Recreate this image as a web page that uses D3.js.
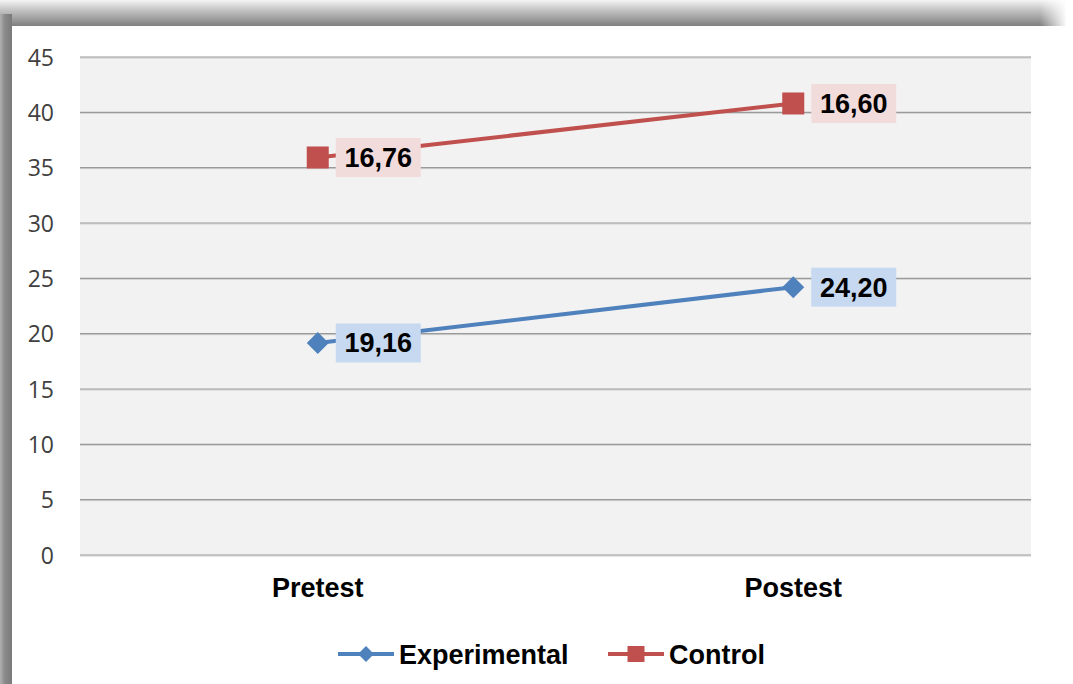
<!DOCTYPE html>
<html>
<head>
<meta charset="utf-8">
<script src="https://cdn.jsdelivr.net/npm/d3@7"></script>
<style>
  html, body { margin: 0; padding: 0; background: #fff; }
  svg { display: block; }
</style>
</head>
<body>
<svg id="chart" width="1073" height="684"></svg>
<script>
// data (Control is stacked on Experimental)
const categories = ["Pretest", "Postest"];
const experimental = [19.16, 24.20];
const control = [16.76, 16.60];
const seriesNames = ["Experimental", "Control"];
const yTicks = [0, 5, 10, 15, 20, 25, 30, 35, 40, 45];

const colors = { Experimental: "#4f81bd", Control: "#c0504d" };
const labelFill = { Experimental: "#c6d9f1", Control: "#f2dcdb" };
const boldFont = "'Liberation Sans', Arial, sans-serif";

const W = 1073, H = 684;
const margin = { top: 57, right: 42, bottom: 129, left: 80 };
const width = W - margin.left - margin.right;
const height = H - margin.top - margin.bottom;

const svg = d3.select("#chart");

// shadow frame
const defs = svg.append("defs");
const gTop = defs.append("linearGradient").attr("id", "topShade")
  .attr("x1", 0).attr("y1", 0).attr("x2", 0).attr("y2", 1);
gTop.append("stop").attr("offset", "0%").attr("stop-color", "#f4f4f4");
gTop.append("stop").attr("offset", "35%").attr("stop-color", "#c8c8c8");
gTop.append("stop").attr("offset", "100%").attr("stop-color", "#7f7f7f");
const gRight = defs.append("linearGradient").attr("id", "topFade")
  .attr("x1", 0).attr("y1", 0).attr("x2", 1).attr("y2", 0);
gRight.append("stop").attr("offset", "0%").attr("stop-color", "#fff").attr("stop-opacity", 0);
gRight.append("stop").attr("offset", "100%").attr("stop-color", "#fff").attr("stop-opacity", 1);
const gLeft = defs.append("linearGradient").attr("id", "leftShade")
  .attr("x1", 0).attr("y1", 0).attr("x2", 1).attr("y2", 0);
gLeft.append("stop").attr("offset", "0%").attr("stop-color", "#b0b0b0");
gLeft.append("stop").attr("offset", "40%").attr("stop-color", "#8a8a8a");
gLeft.append("stop").attr("offset", "100%").attr("stop-color", "#7a7a7a");

svg.append("rect").attr("x", 0).attr("y", 0).attr("width", 1066).attr("height", 26)
  .attr("fill", "url(#topShade)");
svg.append("rect").attr("x", 1040).attr("y", 0).attr("width", 27).attr("height", 26)
  .attr("fill", "url(#topFade)");
svg.append("rect").attr("x", 0).attr("y", 14).attr("width", 12).attr("height", H - 14)
  .attr("fill", "url(#leftShade)");

const g = svg.append("g")
  .attr("transform", "translate(" + margin.left + "," + margin.top + ")");

const x = d3.scaleBand().domain(categories).range([0, width]);
const y = d3.scaleLinear().domain([0, 45]).range([height, 0]);

// plot background
g.append("rect").attr("width", width).attr("height", height).attr("fill", "#f2f2f2");

// gridlines
g.append("g").selectAll("line").data(yTicks).enter().append("line")
  .attr("x1", 0).attr("x2", width)
  .attr("y1", d => y(d) + 1).attr("y2", d => y(d) + 1)
  .attr("stroke", "#d0d0d0").attr("stroke-width", 1);
g.append("g").selectAll("line").data(yTicks).enter().append("line")
  .attr("x1", 0).attr("x2", width)
  .attr("y1", d => y(d)).attr("y2", d => y(d))
  .attr("stroke", "#9a9a9a").attr("stroke-width", 1.2);

// y axis labels
const yAxis = g.append("g")
  .call(d3.axisLeft(y).tickValues(yTicks).tickSize(0).tickPadding(26));
yAxis.select(".domain").remove();
yAxis.selectAll("text")
  .style("font-family", "'Open Sans', sans-serif")
  .style("font-size", "23px")
  .attr("dy", "0.36em")
  .attr("fill", "#404040");

// x axis labels
const xAxis = g.append("g")
  .attr("transform", "translate(0," + height + ")")
  .call(d3.axisBottom(x).tickSize(0).tickPadding(23));
xAxis.select(".domain").remove();
xAxis.selectAll("text")
  .style("font-family", boldFont)
  .style("font-size", "27px")
  .style("font-weight", "bold")
  .attr("fill", "#000");

// stacked series
const table = categories.map((c, i) => ({ cat: c, Experimental: experimental[i], Control: control[i] }));
const stacked = d3.stack().keys(seriesNames)(table);

const line = d3.line()
  .x((d, i) => x(categories[i]) + x.bandwidth() / 2)
  .y(d => y(d[1]));

stacked.forEach(s => {
  g.append("path").datum(s)
    .attr("d", line)
    .attr("fill", "none")
    .attr("stroke", colors[s.key])
    .attr("stroke-width", 4);
});

function marker(sel, key, w, h) {
  if (key === "Control") {
    sel.append("rect")
      .attr("x", -w / 2).attr("y", -h / 2)
      .attr("width", w).attr("height", h)
      .attr("fill", colors[key]);
  } else {
    sel.append("path")
      .attr("d", "M0," + (-h / 2) + "L" + (w / 2) + ",0L0," + (h / 2) + "L" + (-w / 2) + ",0Z")
      .attr("fill", colors[key]);
  }
}

stacked.forEach(s => {
  s.forEach((d, i) => {
    const px = x(categories[i]) + x.bandwidth() / 2;
    const py = y(d[1]);
    const mg = g.append("g").attr("transform", "translate(" + px + "," + py + ")");
    marker(mg, s.key, 22, 22);
  });
});

// data labels
stacked.forEach(s => {
  s.forEach((d, i) => {
    const px = x(categories[i]) + x.bandwidth() / 2;
    const py = y(d[1]);
    const val = d.data[s.key];
    const txt = d3.format(".2f")(val).replace(".", ",");
    const lg = g.append("g").attr("transform", "translate(" + (px + 18) + "," + py + ")");
    lg.append("rect")
      .attr("x", 0).attr("y", -19.5)
      .attr("width", 85).attr("height", 39)
      .attr("fill", labelFill[s.key]);
    lg.append("text")
      .attr("x", 42.5).attr("y", 9.5)
      .attr("text-anchor", "middle")
      .style("font-family", boldFont)
      .style("font-size", "27px")
      .style("font-weight", "bold")
      .attr("fill", "#000")
      .text(txt);
  });
});

// legend
const legendItems = [
  { key: "Experimental", x: 338 },
  { key: "Control", x: 608 }
];
const lgd = svg.append("g").attr("transform", "translate(0,654)");
legendItems.forEach(it => {
  const li = lgd.append("g").attr("transform", "translate(" + it.x + ",0)");
  li.append("line").attr("x1", 0).attr("x2", 56).attr("y1", 0).attr("y2", 0)
    .attr("stroke", colors[it.key]).attr("stroke-width", 4);
  const m = li.append("g").attr("transform", "translate(28,0)");
  if (it.key === "Control") marker(m, it.key, 17, 16);
  else marker(m, it.key, 16, 16);
  li.append("text")
    .attr("x", 61).attr("y", 9.5)
    .style("font-family", boldFont)
    .style("font-size", "27px")
    .style("font-weight", "bold")
    .attr("fill", "#000")
    .text(it.key);
});
</script>
</body>
</html>
